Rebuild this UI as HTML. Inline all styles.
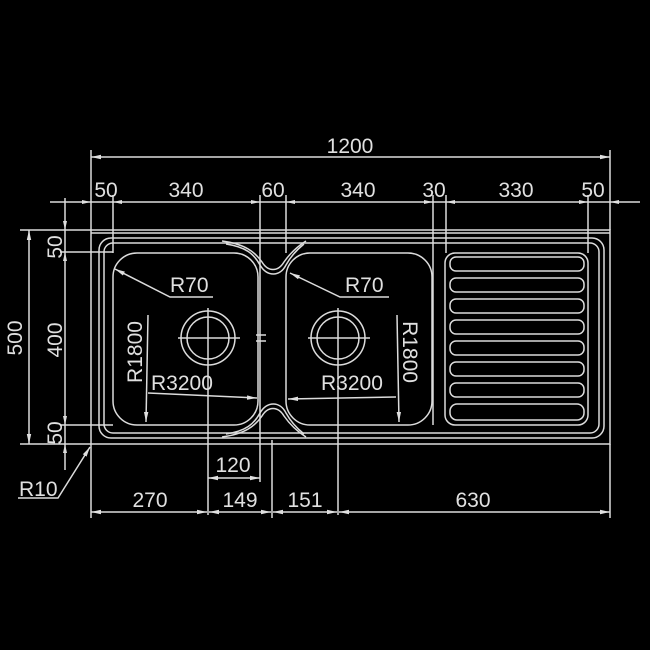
<!DOCTYPE html>
<html><head><meta charset="utf-8"><style>
html,body{margin:0;padding:0;background:#000;}
svg{display:block}
text{font-family:"Liberation Sans",sans-serif;font-size:21px;fill:#e0e0e0;}
</style></head><body>
<svg width="650" height="650" viewBox="0 0 650 650" xmlns="http://www.w3.org/2000/svg">
<defs>
<marker id="a" viewBox="0 0 10 6" refX="10" refY="3" markerWidth="10" markerHeight="6" orient="auto-start-reverse" markerUnits="userSpaceOnUse"><path d="M0,0.8 L10,3 L0,5.2z" fill="#e0e0e0"/></marker>
</defs>
<rect width="650" height="650" fill="#000"/>
<g stroke="#dcdcdc" stroke-width="1.5" fill="none">
<rect x="91" y="230" width="519" height="214"/>
<line x1="91" y1="233" x2="610" y2="233"/>
<rect x="99" y="238" width="505" height="200" rx="12"/>
<rect x="104" y="243" width="495" height="190" rx="9"/>
<rect x="113" y="253" width="145" height="172" rx="24"/>
<rect x="286" y="253" width="146" height="172" rx="24"/>
<path d="M222,241 C245,244 255,252 262,262 C268,272 278,272 284,262 C291,252 298,246 306,241"/>
<path d="M226,244 C246,247 254,254 260,265 C267,277 280,277 286,265 C292,254 299,248 304,244"/>
<path d="M222,437 C245,434 255,426 262,416 C268,406 278,406 284,416 C291,426 298,432 306,437"/>
<path d="M226,434 C246,431 254,424 260,413 C267,401 280,401 286,413 C292,424 299,430 304,434"/>
<circle cx="208" cy="338" r="27"/><circle cx="208" cy="338" r="21"/>
<circle cx="338" cy="338" r="27"/><circle cx="338" cy="338" r="21"/>
<line x1="178" y1="338" x2="240" y2="338"/><line x1="308" y1="338" x2="370" y2="338"/>
<line x1="208" y1="308" x2="208" y2="515"/><line x1="338" y1="308" x2="338" y2="515"/>
<line x1="256" y1="335" x2="266" y2="335"/><line x1="256" y1="341" x2="266" y2="341"/>
<rect x="445" y="253" width="143" height="172" rx="10"/>
<g>
<rect x="450" y="257" width="134" height="14" rx="6"/>
<rect x="450" y="278" width="134" height="14" rx="6"/>
<rect x="450" y="299" width="134" height="14" rx="6"/>
<rect x="450" y="320" width="134" height="14" rx="6"/>
<rect x="450" y="341" width="134" height="14" rx="6"/>
<rect x="450" y="362" width="134" height="14" rx="6"/>
<rect x="450" y="383" width="134" height="14" rx="6"/>
<rect x="450" y="404" width="134" height="16" rx="7"/>
</g>
<line x1="91" y1="150" x2="91" y2="230"/><line x1="610" y1="150" x2="610" y2="230"/>
<line x1="91" y1="157" x2="610" y2="157" marker-start="url(#a)" marker-end="url(#a)"/>
<line x1="50" y1="202" x2="640" y2="202"/>
<line x1="113" y1="195" x2="113" y2="253"/>
<line x1="260" y1="195" x2="260" y2="425"/>
<line x1="286" y1="195" x2="286" y2="253"/>
<line x1="433" y1="195" x2="433" y2="425"/>
<line x1="446" y1="195" x2="446" y2="253"/>
<line x1="588" y1="195" x2="588" y2="253"/>
<g fill="#e0e0e0" stroke="none">
<path d="M91,202 l-9,-2 v4z"/><path d="M113,202 l9,-2 v4z"/>
<path d="M260,202 l-9,-2 v4z"/><path d="M286,202 l9,-2 v4z"/>
<path d="M433,202 l-9,-2 v4z"/><path d="M446,202 l9,-2 v4z"/>
<path d="M588,202 l-9,-2 v4z"/><path d="M610,202 l9,-2 v4z"/>
<path d="M65,230 l-2,-9 h4z"/><path d="M65,252 l-2,9 h4z"/>
<path d="M65,425 l-2,-9 h4z"/><path d="M65,444 l-2,9 h4z"/>
</g>
<line x1="20" y1="230" x2="91" y2="230"/><line x1="20" y1="444" x2="91" y2="444"/>
<line x1="29" y1="230" x2="29" y2="444" marker-start="url(#a)" marker-end="url(#a)"/>
<line x1="60" y1="252" x2="113" y2="252"/><line x1="60" y1="425" x2="113" y2="425"/>
<line x1="65" y1="198" x2="65" y2="470"/>
<polyline points="18,498 58,498 90,447" marker-end="url(#a)"/>
<polyline points="213,297 170,297 115,269" marker-end="url(#a)"/>
<polyline points="389,297 340,297 290,273" marker-end="url(#a)"/>
<line x1="148" y1="315" x2="146" y2="422" marker-end="url(#a)"/>
<line x1="397" y1="315" x2="399" y2="422" marker-end="url(#a)"/>
<line x1="148" y1="393" x2="257" y2="398" marker-end="url(#a)"/>
<line x1="396" y1="397" x2="288" y2="399" marker-end="url(#a)"/>
<line x1="91" y1="444" x2="91" y2="518"/>
<line x1="610" y1="444" x2="610" y2="518"/>
<line x1="272" y1="440" x2="272" y2="518"/>
<line x1="260" y1="425" x2="260" y2="482"/>
<line x1="208" y1="478" x2="260" y2="478" marker-start="url(#a)" marker-end="url(#a)"/>
<line x1="91" y1="512" x2="207" y2="512" marker-start="url(#a)" marker-end="url(#a)"/>
<line x1="209" y1="512" x2="271" y2="512" marker-start="url(#a)" marker-end="url(#a)"/>
<line x1="273" y1="512" x2="337" y2="512" marker-start="url(#a)" marker-end="url(#a)"/>
<line x1="339" y1="512" x2="610" y2="512" marker-start="url(#a)" marker-end="url(#a)"/>
</g>
<text x="350" y="153" text-anchor="middle">1200</text>
<text x="106" y="197" text-anchor="middle">50</text>
<text x="186" y="197" text-anchor="middle">340</text>
<text x="273" y="197" text-anchor="middle">60</text>
<text x="358" y="197" text-anchor="middle">340</text>
<text x="434" y="197" text-anchor="middle">30</text>
<text x="516" y="197" text-anchor="middle">330</text>
<text x="593" y="197" text-anchor="middle">50</text>
<text transform="translate(22,338) rotate(-90)" text-anchor="middle">500</text>
<text transform="translate(62,247) rotate(-90)" text-anchor="middle">50</text>
<text transform="translate(62,340) rotate(-90)" text-anchor="middle">400</text>
<text transform="translate(62,433) rotate(-90)" text-anchor="middle">50</text>
<text x="19" y="496">R10</text>
<text x="170" y="292">R70</text>
<text x="345" y="292">R70</text>
<text transform="translate(142,352) rotate(-90)" text-anchor="middle">R1800</text>
<text transform="translate(403,352) rotate(90)" text-anchor="middle">R1800</text>
<text x="151" y="390">R3200</text>
<text x="321" y="390">R3200</text>
<text x="233" y="472" text-anchor="middle">120</text>
<text x="150" y="507" text-anchor="middle">270</text>
<text x="240" y="507" text-anchor="middle">149</text>
<text x="305" y="507" text-anchor="middle">151</text>
<text x="473" y="507" text-anchor="middle">630</text>
</svg>
</body></html>
